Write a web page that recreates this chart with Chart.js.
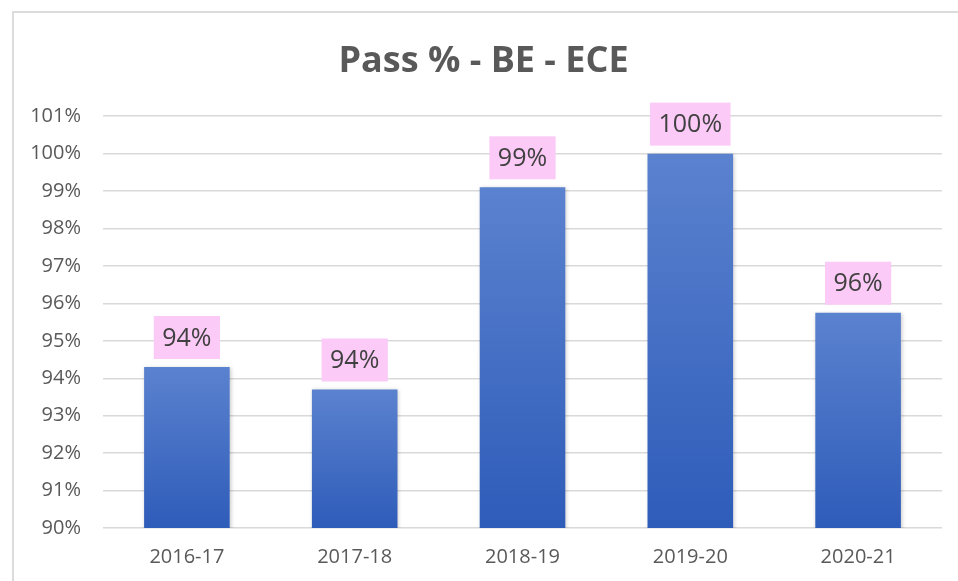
<!DOCTYPE html>
<html lang="en">
<head>
<meta charset="UTF-8" />
<title>pass % chart</title>
<script src="https://cdn.jsdelivr.net/npm/chart.js"></script>
<style>
  body, html {
    margin: 0; padding: 0;
    background: #fff;
    overflow: hidden;
  }
  #wrap {
    position: relative;
    width: 958px;
    height: 581px;
    overflow: hidden;
  }
  canvas { display: block; }
  #frame {
    position: absolute;
    left: 12px; top: 11px;
    width: 960px; height: 590px;
    border: 2px solid #dcdcdc;
    pointer-events: none;
  }
</style>
</head>
<body>
<div id="wrap">
  <canvas id="passChart" width="958" height="581"></canvas>
  <div id="frame"></div>
</div>

<script>
  const years = ['2016-17', '2017-18', '2018-19', '2019-20', '2020-21'];
  const passPct = [94.3, 93.7, 99.1, 100, 95.75];
  const yMin = 90;
  const yMax = 101;

  // pink value boxes above each bar
  const valueBoxes = {
    id: 'valueBoxes',
    afterDatasetsDraw(chart) {
      const ctx = chart.ctx;
      const meta = chart.getDatasetMeta(0);
      ctx.save();
      ctx.font = '500 25px "Open Sans"';
      ctx.textAlign = 'center';
      ctx.textBaseline = 'middle';
      meta.data.forEach((bar, i) => {
        const txt = Math.round(passPct[i]) + '%';
        const w = ctx.measureText(txt).width + 17;
        const h = 43;
        const bottom = bar.y - 8;
        ctx.fillStyle = '#fbcaf7';
        ctx.fillRect(bar.x - w / 2, bottom - h, w, h);
        ctx.fillStyle = '#404040';
        ctx.fillText(txt, bar.x, bottom - h / 2 + 1);
      });
      ctx.restore();
    }
  };

  const barShadow = {
    id: 'barShadow',
    beforeDatasetsDraw(chart) {
      const ctx = chart.ctx;
      ctx.save();
      ctx.shadowColor = 'rgba(0,0,0,0.22)';
      ctx.shadowBlur = 4;
      ctx.shadowOffsetX = 1;
      ctx.shadowOffsetY = 1;
    },
    afterDatasetsDraw(chart) {
      chart.ctx.restore();
    }
  };

  function barGradient(c) {
    const chart = c.chart;
    if (!chart.chartArea) return '#4472c4';
    const y = chart.scales.y;
    const top = y.getPixelForValue(passPct[c.dataIndex]);
    const g = chart.ctx.createLinearGradient(0, top, 0, chart.chartArea.bottom);
    g.addColorStop(0, '#5b82cf');
    g.addColorStop(1, '#2e5cb9');
    return g;
  }

  new Chart(document.getElementById('passChart'), {
    type: 'bar',
    data: {
      labels: years,
      datasets: [{
        data: passPct,
        backgroundColor: barGradient,
        borderWidth: 0,
        barPercentage: 0.51,
        categoryPercentage: 1
      }]
    },
    plugins: [barShadow, valueBoxes],
    options: {
      responsive: false,
      animation: false,
      layout: { padding: { left: 25, right: 16, top: 0, bottom: 0 } },
      plugins: {
        legend: { display: false },
        tooltip: { enabled: false },
        title: {
          display: true,
          text: 'Pass % - BE - ECE',
          color: '#595959',
          font: { family: '"Open Sans"', size: 36, weight: '700' },
          padding: { top: 40, bottom: 33 }
        }
      },
      scales: {
        x: {
          afterFit(s) { s.height = 53; },
          grid: { display: false, drawTicks: false },
          border: { display: false },
          ticks: {
            color: '#595959',
            font: { family: '"Open Sans"', size: 20 },
            padding: 17
          }
        },
        y: {
          min: yMin,
          max: yMax,
          afterFit(s) { s.width = 78; },
          border: { display: false },
          grid: { color: '#d9d9d9', lineWidth: 1.5, drawTicks: false },
          ticks: {
            stepSize: 1,
            color: '#595959',
            font: { family: '"Open Sans"', size: 20 },
            padding: 22,
            callback: v => v + '%'
          }
        }
      }
    }
  });
</script>
</body>
</html>
